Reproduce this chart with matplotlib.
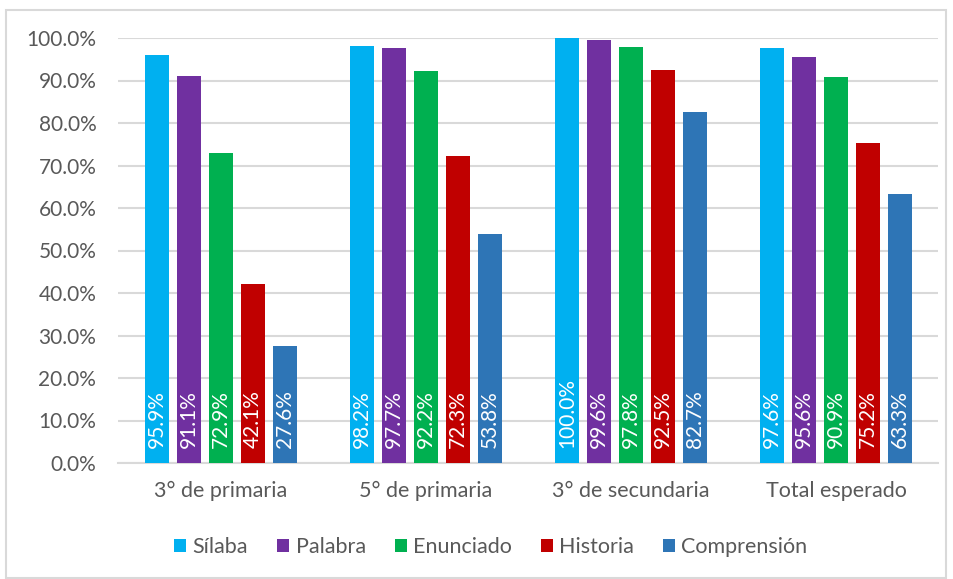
import matplotlib.pyplot as plt
import numpy as np
from matplotlib.patches import Rectangle

plt.rcParams['font.family'] = ['Lato', 'DejaVu Sans']

# Data
categories = ['3° de primaria', '5° de primaria', '3° de secundaria', 'Total esperado']
series = ['Sílaba', 'Palabra', 'Enunciado', 'Historia', 'Comprensión']
values = {
    'Sílaba':      [95.9, 98.2, 100.0, 97.6],
    'Palabra':     [91.1, 97.7, 99.6, 95.6],
    'Enunciado':   [72.9, 92.2, 97.8, 90.9],
    'Historia':    [42.1, 72.3, 92.5, 75.2],
    'Comprensión': [27.6, 53.8, 82.7, 63.3],
}
colors = ['#00B0F0', '#7030A0', '#00B050', '#C00000', '#2E75B6']

fig = plt.figure(figsize=(9.54, 5.79), dpi=100)
ax = fig.add_axes([118.5 / 954, 1 - 463 / 579, 820 / 954, 425 / 579])

x = np.arange(len(categories))
step = 0.156
width = 0.117
for i, (name, c) in enumerate(zip(series, colors)):
    pos = x + (i - 2) * step
    bars = ax.bar(pos, values[name], width=width, color=c, label=name, zorder=3)
    for b, v in zip(bars, values[name]):
        ax.text(b.get_x() + b.get_width() / 2, 3.5, f'{v:.1f}%', rotation=90,
                ha='center', va='bottom', color='white', fontsize=15, zorder=4)

ax.set_xlim(-0.5, 3.5)
ax.set_ylim(0, 100)
ax.set_yticks(np.arange(0, 101, 10))
ax.set_yticklabels([f'{t:.1f}%' for t in range(0, 101, 10)])
ax.set_xticks(x)
ax.set_xticklabels(categories)
ax.tick_params(axis='both', length=0, labelcolor='#595959')
ax.tick_params(axis='x', pad=13, labelsize=15.5)
ax.tick_params(axis='y', pad=16, labelsize=15)
ax.grid(axis='y', color='#d9d9d9', linewidth=1.5, zorder=0)
for s in ['top', 'right', 'left']:
    ax.spines[s].set_visible(False)
ax.spines['bottom'].set_color('#d9d9d9')
ax.spines['bottom'].set_linewidth(1.5)

leg = fig.legend(loc='center', bbox_to_anchor=(491 / 954, 1 - 547 / 579), ncol=5,
                 frameon=False, fontsize=15.5, handlelength=0.55, handleheight=0.55,
                 handletextpad=0.3, columnspacing=1.35)
for t in leg.get_texts():
    t.set_color('#595959')

# outer chart border
fig.patches.append(Rectangle((6 / 954, 0.002), 940 / 954, 1 - 10 / 579 - 0.002,
                             transform=fig.transFigure, fill=False,
                             edgecolor='#d9d9d9', linewidth=1.5))

plt.savefig('out.png', dpi=100)
